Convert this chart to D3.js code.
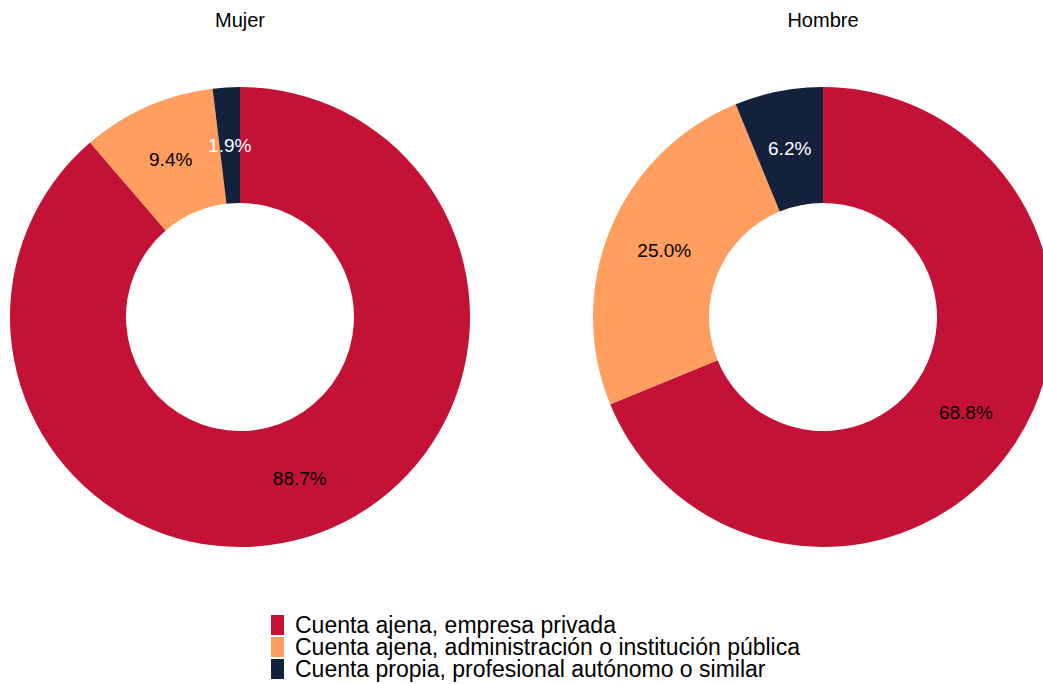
<!DOCTYPE html>
<html>
<head>
<meta charset="utf-8">
<script src="https://cdn.jsdelivr.net/npm/d3@7"></script>
<style>
    body { margin: 0; background: #fff; }
    svg { display: block; font-family: "Liberation Sans", Arial, sans-serif; }
</style>
</head>
<body>
<div id="chart"></div>
<script>
(function(d3) {
    'use strict';

    var categories = [
        'Cuenta ajena, empresa privada',
        'Cuenta ajena, administración o institución pública',
        'Cuenta propia, profesional autónomo o similar'
    ];
    var groups = ['Mujer', 'Hombre'];
    var mujerValues = [88.7, 9.4, 1.9];
    var hombreValues = [68.8, 25.0, 6.2];

    var settings = {
        width: 1043,
        height: 684,
        outer: 230,
        inner: 114,
        centerY: 317,
        centers: [240, 823],
        titleY: 27,
        legend: { x: 271, y: 615, width: 13, height: 20, step: 22, gap: 11 }
    };

    var color = d3.scaleOrdinal()
        .domain(categories)
        .range(['#c41236', '#ff9e5e', '#14213d']);

    var textColor = d3.scaleOrdinal()
        .domain(categories)
        .range(['#000', '#000', '#fff']);

    var arc = d3.arc()
        .outerRadius(settings.outer)
        .innerRadius(settings.inner);

    var labelArc = d3.arc()
        .outerRadius((settings.outer + settings.inner) / 2)
        .innerRadius((settings.outer + settings.inner) / 2);

    var pie = d3.pie()
        .sort(null)
        .value(function(d) { return d.value; });

    var svg = d3.select('#chart').append('svg')
        .attr('width', settings.width)
        .attr('height', settings.height);

    var x = d3.scaleOrdinal()
        .domain(groups)
        .range(settings.centers);

    [mujerValues, hombreValues].forEach(function(values, i) {
        var data = categories.map(function(c, j) {
            return { label: c, value: values[j] };
        });

        var g = svg.append('g')
            .attr('transform', 'translate(' + x(groups[i]) + ',' + settings.centerY + ')');

        g.selectAll('path')
            .data(pie(data))
            .enter()
            .append('path')
            .attr('d', arc)
            .attr('fill', function(d) { return color(d.data.label); });

        g.selectAll('.value')
            .data(pie(data))
            .enter()
            .append('text')
            .attr('class', 'value')
            .attr('transform', function(d) {
                return 'translate(' + labelArc.centroid(d) + ')';
            })
            .attr('text-anchor', 'middle')
            .attr('dy', '0.35em')
            .style('font-size', '19px')
            .style('fill', function(d) { return textColor(d.data.label); })
            .text(function(d) { return d.data.value.toFixed(1) + '%'; });

        svg.append('text')
            .attr('x', x(groups[i]))
            .attr('y', settings.titleY)
            .attr('text-anchor', 'middle')
            .style('font-size', '20px')
            .text(groups[i]);
    });

    var legend = svg.selectAll('.legend')
        .data(categories)
        .enter()
        .append('g')
        .attr('class', 'legend')
        .attr('transform', function(d, i) {
            return 'translate(' + settings.legend.x + ',' + (settings.legend.y + i * settings.legend.step) + ')';
        });

    legend.append('rect')
        .attr('width', settings.legend.width)
        .attr('height', settings.legend.height)
        .style('fill', color);

    legend.append('text')
        .attr('x', settings.legend.width + settings.legend.gap)
        .attr('y', settings.legend.height - 2)
        .style('font-size', '23px')
        .text(function(d) { return d; });

})(window.d3);
</script>
</body>
</html>
